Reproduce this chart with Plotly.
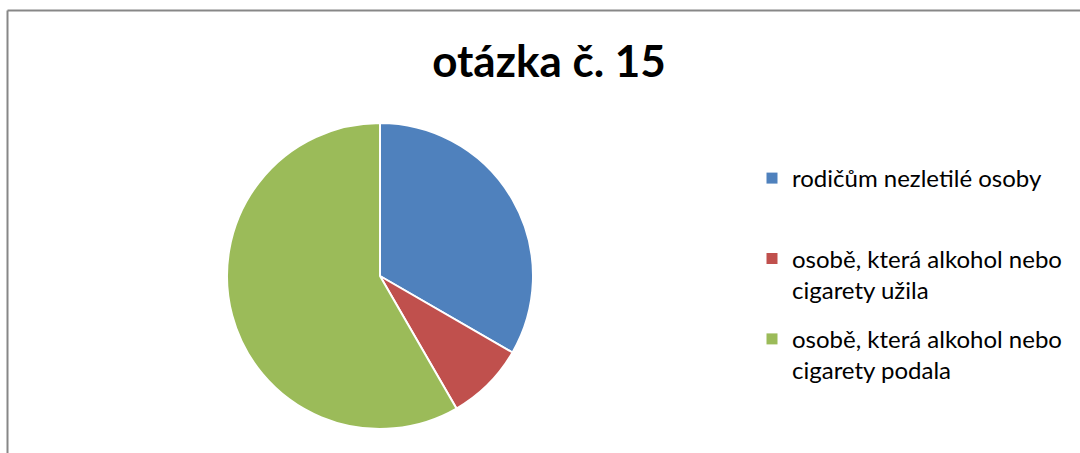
import plotly.graph_objects as go

# data
labels = [
    "rodičům nezletilé osoby",
    "osobě, která alkohol nebo cigarety užila",
    "osobě, která alkohol nebo cigarety podala",
]
legend_text = [
    "rodičům nezletilé osoby<br> ",
    "osobě, která alkohol nebo<br>cigarety užila",
    "osobě, která alkohol nebo<br>cigarety podala",
]
values = [12, 3, 21]
colors = ["#4F81BD", "#C0504D", "#9BBB59"]

W, H = 1080, 453

fig = go.Figure()
fig.add_trace(go.Pie(
    labels=labels,
    values=values,
    hovertemplate="%{label}: %{value} (%{percent})<extra></extra>",
    marker=dict(colors=colors, line=dict(color="white", width=2)),
    sort=False,
    direction="clockwise",
    rotation=0,
    textinfo="none",
    showlegend=False,
    domain=dict(x=[227 / W, 533 / W], y=[24 / H, 330 / H]),
))

# legend entries (one per slice, so the spacing can be set)
for i, (txt, col) in enumerate(zip(legend_text, colors)):
    fig.add_trace(go.Scatter(
        x=[None], y=[None], mode="markers", name=txt,
        legendgroup=str(i), hoverinfo="skip",
        marker=dict(symbol="square", size=11, color=col),
    ))

# chart area border (top and left edges visible)
fig.add_shape(type="line", xref="paper", yref="paper",
              x0=7.5 / W, x1=1, y0=1 - 10.5 / H, y1=1 - 10.5 / H,
              line=dict(color="#878787", width=2))
fig.add_shape(type="line", xref="paper", yref="paper",
              x0=7.5 / W, x1=7.5 / W, y0=0, y1=1 - 10.5 / H,
              line=dict(color="#878787", width=2))

fig.update_layout(
    width=W, height=H,
    margin=dict(l=0, r=0, t=0, b=0),
    paper_bgcolor="white",
    plot_bgcolor="white",
    xaxis=dict(visible=False),
    yaxis=dict(visible=False),
    font=dict(family="Lato, Open Sans, sans-serif", color="#000000"),
    title=dict(text="<b>otázka č. 15</b>", x=549 / W, y=1 - 62 / H,
               xanchor="center", yanchor="middle",
               font=dict(size=44, color="#000000")),
    legend=dict(x=752 / W, y=1 - 156 / H, xanchor="left", yanchor="top",
                valign="top", itemwidth=30, tracegroupgap=15,
                font=dict(size=24, color="#000000"),
                traceorder="grouped"),
    showlegend=True,
)

fig.write_html("out.html", config={"displayModeBar": False},
               post_script="document.body.style.margin='0';")
